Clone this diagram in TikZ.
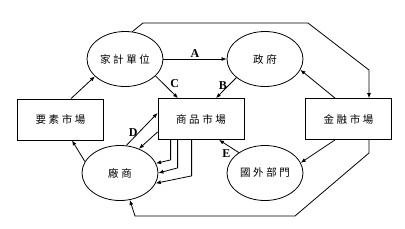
\documentclass[tikz,border=0pt]{standalone}
\usepackage{fontspec}
\setmainfont{Liberation Serif}
\newfontfamily\cjk[LetterSpace=25]{Noto Sans CJK TC}
\usetikzlibrary{arrows.meta,calc,shapes.geometric}
\tikzset{box/.style={draw,line width=0.8pt,minimum width=86pt,minimum height=41pt,font=\cjk\fontsize{10.5}{12}\selectfont},
  oval/.style={draw,ellipse,line width=0.8pt,minimum width=76pt,minimum height=55pt,inner sep=0pt,font=\cjk\fontsize{10.5}{12}\selectfont},
  arr/.style={-{Latex[length=5pt,width=4pt]},line width=0.8pt},
  lbl/.style={font=\bfseries\fontsize{12}{14}\selectfont,inner sep=1pt}}

\begin{document}
\begin{tikzpicture}[x=1pt,y=-1pt]
\useasboundingbox (0,0) rectangle (405,228);
% sectors and markets
\node[oval] (hh) at (125,59) {家計單位};
\node[oval] (gov) at (265,59) {政府};
\node[box] (factor) at (60.5,119.5) {要素市場};
\node[box] (goods) at (201,119) {商品市場};
\node[box] (fin) at (348.5,119) {金融市場};
\node[oval] (firm) at (120,173) {廠商};
\node[oval] (abroad) at (265,173) {國外部門};
% outer loop
\coordinate (tl) at (143,23);
\coordinate (tr) at (308,23);
\coordinate (rt) at (369,70);
\coordinate (rb) at (369,153);
\coordinate (br) at (295,216);
\coordinate (bl) at (135,216);
\draw[arr] (hh.75) -- (tl) -- (tr) -- (rt) -- ($(fin.north)+(20.5,0)$);
\draw[arr] ($(fin.south)+(20.5,0)$) -- (rb) -- (br) -- (bl) -- (firm.-70);
% flows
\draw[arr] (hh.east) -- node[lbl,above]{A} (gov.west);
\draw[arr] (hh.-29) -- node[lbl,pos=0.6,above right]{C} ($(goods.north)+(-23,0)$);
\draw[arr] (gov.213) -- node[lbl,pos=0.4,left]{B} ($(goods.north)+(15,0)$);
\draw[arr] ($(fin.north)+(-13.5,0)$) -- (gov.-17);
\draw[arr] ($(fin.south)+(-13.5,0)$) -- (abroad.16);
\draw[arr] (abroad.142) -- node[lbl,pos=0.35,below left]{E} ($(goods.south)+(18,0)$);
\draw[arr] ($(factor.north)+(10.5,0)$) -- (hh.210);
\draw[arr] (firm.162) -- ($(factor.south)+(11.5,0)$);
\draw[arr] (firm.77) -- node[lbl,pos=0.4,left]{D} ($(goods.west)+(0,-6)$);
\draw[arr] ($(goods.west)+(0,13)$) -- (firm.52);
\draw[arr] ($(goods.south west)+(13,0)$) -- ++(0,20) -- (firm.15);
\draw[arr] ($(goods.south west)+(20,0)$) -- ++(0,28) -- (firm.0);
\draw[arr] ($(goods.south west)+(34,0)$) -- ++(0,36) -- (firm.-16);
\end{tikzpicture}
\end{document}
